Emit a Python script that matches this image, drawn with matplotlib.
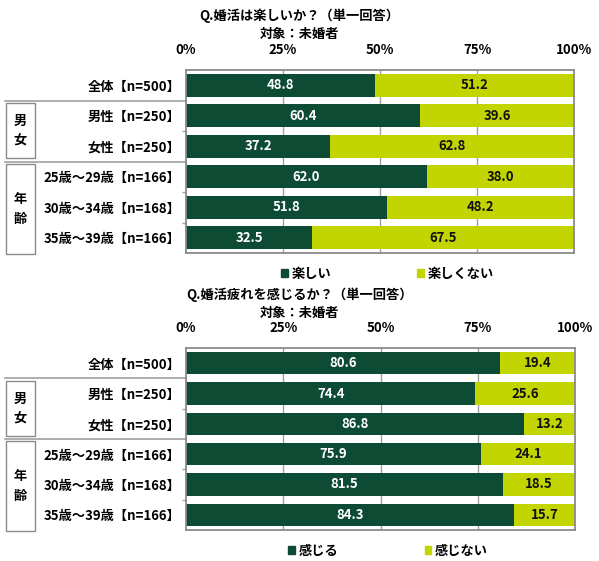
import matplotlib
matplotlib.use("Agg")
import matplotlib.pyplot as plt
from matplotlib.patches import Patch, Rectangle
from matplotlib.transforms import blended_transform_factory

plt.rcParams['font.family'] = ['Noto Sans CJK JP', 'DejaVu Sans']
plt.rcParams['font.weight'] = 'bold'

# ------------------------
# DATA
# ------------------------

categories = ["全体【n=500】", "男性【n=250】", "女性【n=250】",
              "25歳～29歳【n=166】", "30歳～34歳【n=168】", "35歳～39歳【n=166】"]

fun_yes = [48.8, 60.4, 37.2, 62.0, 51.8, 32.5]
fun_no = [51.2, 39.6, 62.8, 38.0, 48.2, 67.5]

tired_yes = [80.6, 74.4, 86.8, 75.9, 81.5, 84.3]
tired_no = [19.4, 25.6, 13.2, 24.1, 18.5, 15.7]

xticks = [0, 25, 50, 75, 100]
xtick_labels = ["0%", "25%", "50%", "75%", "100%"]

DARK = "#0d4b34"
LIGHT = "#c2d500"
GRID = "#a0a0a0"

W, H = 599, 561
fig = plt.figure(figsize=(W / 100, H / 100), dpi=100)


def px_axes(left, top, right, bottom):
    return fig.add_axes([left / W, 1 - bottom / H, (right - left) / W, (bottom - top) / H])


def draw_panel(ax, yes, no, title, sub, leg_yes, leg_no, title_y):
    n = len(categories)
    ypos = list(range(n))
    for x in [25, 50, 75]:
        ax.axvline(x, color=GRID, lw=1, zorder=0)
    ax.barh(ypos, yes, height=0.74, color=DARK, zorder=2)
    ax.barh(ypos, no, left=yes, height=0.74, color=LIGHT, zorder=2)
    for i in ypos:
        ax.text(yes[i] / 2, i, f"{yes[i]:.1f}", color="white", ha="center", va="center",
                fontsize=9.5, fontweight="bold", zorder=3)
        ax.text(yes[i] + no[i] / 2, i, f"{no[i]:.1f}", color="#111111", ha="center",
                va="center", fontsize=9.5, fontweight="bold", zorder=3)

    ax.set_xlim(0, 100)
    ax.set_ylim(n - 0.5, -0.5)
    ax.xaxis.tick_top()
    ax.set_xticks(xticks)
    ax.set_xticklabels(xtick_labels, fontsize=9.5, fontweight="bold")
    ax.tick_params(axis="x", length=0, pad=9)
    ax.set_yticks(ypos)
    ax.set_yticklabels(categories, fontsize=9.5, fontweight="bold")
    ax.tick_params(axis="y", length=0, pad=4)
    ax.set_yticks([1.5, 3.5, 4.5], minor=True)
    ax.tick_params(axis="y", which="minor", length=3, color=GRID, width=1)
    for s in ax.spines.values():
        s.set_color("#8a8a8a")
        s.set_linewidth(1.3)

    # group separators and boxes
    tr = blended_transform_factory(fig.transFigure, ax.transData)
    for yb in [0.5, 2.5]:
        ax.plot([5 / W, 186 / W], [yb, yb], color=GRID, lw=1.2, transform=tr, clip_on=False)
    ax.add_patch(Rectangle((6 / W, 0.58), 29 / W, 1.82, transform=tr, fill=False,
                           edgecolor="#8a8a8a", lw=1, clip_on=False))
    ax.add_patch(Rectangle((6 / W, 2.58), 29 / W, 2.95, transform=tr, fill=False,
                           edgecolor="#8a8a8a", lw=1, clip_on=False))
    ax.text(20.5 / W, 1.5, "男\n女", transform=tr, ha="center", va="center",
            fontsize=9.5, fontweight="bold", linespacing=1.5)
    ax.text(20.5 / W, 4.05, "年\n齢", transform=tr, ha="center", va="center",
            fontsize=9.5, fontweight="bold", linespacing=1.5)

    fig.text(0.5, 1 - (title_y + 1) / H, title, ha="center", va="center", fontsize=9.5,
             fontweight="bold")
    fig.text(0.5, 1 - (title_y + 19) / H, sub, ha="center", va="center", fontsize=9.5,
             fontweight="bold")

    handles = [Patch(color=DARK, label=leg_yes), Patch(color=LIGHT, label=leg_no)]
    ax.legend(handles=handles, loc="upper center", bbox_to_anchor=(0.52, -0.01), ncol=2,
              frameon=False, handlelength=0.5, handleheight=0.5, handletextpad=0.3,
              columnspacing=6.5, prop={"size": 9.5, "weight": "bold"})


ax1 = px_axes(186, 70, 574, 253)
draw_panel(ax1, fun_yes, fun_no, "Q.婚活は楽しいか？（単一回答）", "対象：未婚者", "楽しい", "楽しくない", 15)

ax2 = px_axes(186, 348, 575, 530)
draw_panel(ax2, tired_yes, tired_no, "Q.婚活疲れを感じるか？（単一回答）", "対象：未婚者", "感じる", "感じない", 294)

fig.savefig("out.png", dpi=100)
